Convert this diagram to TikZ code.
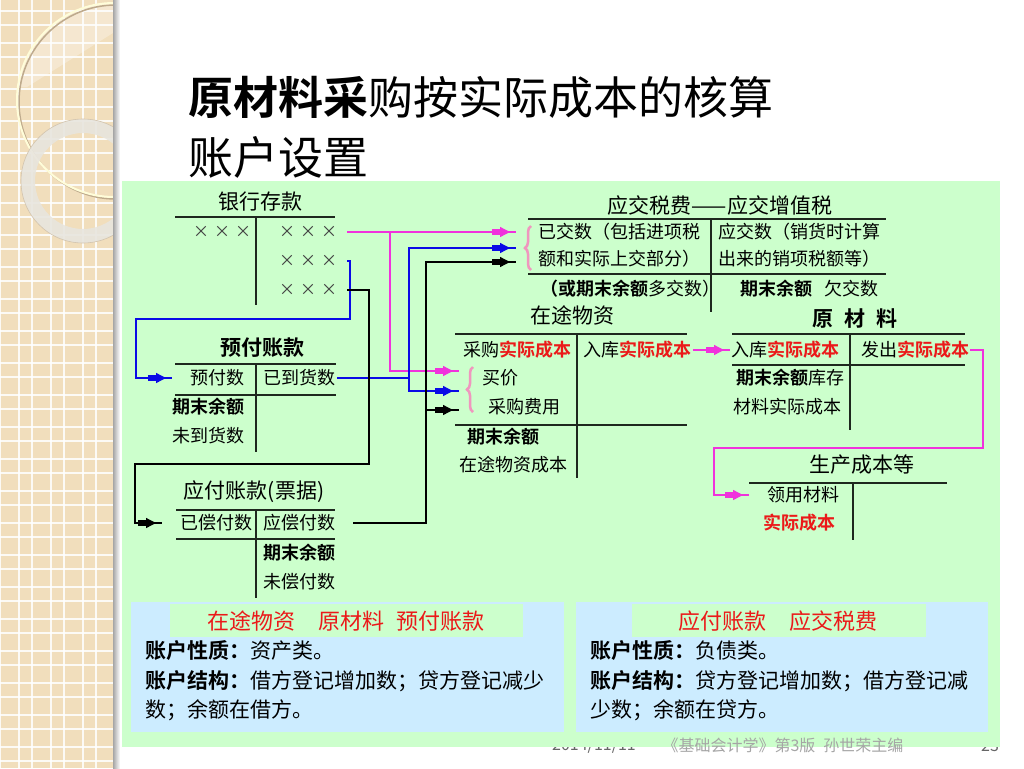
\documentclass[tikz,border=0pt]{standalone}
\usepackage{fontspec}
\setmainfont{Noto Sans CJK SC}[BoldFont={Noto Sans CJK SC Bold}]
\usetikzlibrary{arrows.meta,decorations.markings,decorations.pathreplacing}
\definecolor{panelgreen}{RGB}{204,255,204}
\definecolor{boxblue}{RGB}{204,236,255}
\definecolor{striptan}{RGB}{241,222,188}
\definecolor{magc}{RGB}{240,50,220}
\definecolor{bluc}{RGB}{10,10,230}
\definecolor{bracepink}{RGB}{240,150,190}
\definecolor{redt}{RGB}{235,25,25}
\definecolor{tlinec}{RGB}{30,40,30}
\definecolor{ringc}{RGB}{232,229,222}
\definecolor{shadowc}{RGB}{190,170,140}
\definecolor{footgray}{RGB}{165,165,165}
\newcommand{\rd}[1]{\textcolor{redt}{\bfseries #1}}
\begin{document}
\begin{tikzpicture}[x=1pt,y=-1pt,
  txtbody/.style={font=\fontsize{18pt}{20pt}\selectfont, inner sep=0pt, anchor=west},
  txtx/.style={font=\fontsize{16pt}{18pt}\selectfont, inner sep=0pt, anchor=west, text=black!75},
  txttitle/.style={font=\fontsize{21pt}{24pt}\selectfont, inner sep=0pt},
  txtbox/.style={font=\fontsize{21pt}{24pt}\selectfont, inner sep=0pt, anchor=west},
  txtred/.style={font=\fontsize{22pt}{24pt}\selectfont, inner sep=0pt, text=redt},
  tacct/.style={draw=tlinec, line width=2pt},
  conn/.style={line width=1.3pt},
  arrowtip/.style={postaction={decorate}, decoration={markings,
     mark=at position -16pt with {\arrow{Square[length=8pt,width=5.5pt]}},
     mark=at position -6pt with {\arrow{Triangle[length=10pt,width=10pt]}}}},
  brc/.style={draw=bracepink, line width=2.5pt, decorate, decoration={brace, amplitude=6pt}}
]
\useasboundingbox (0,0) rectangle (1024,768);
\fill[white] (0,0) rectangle (1024,768);

% left decorative strip
\begin{scope}
\clip (0,0) rectangle (113,768);
\fill[striptan] (0,0) rectangle (113,768);
\foreach \x in {0,19,32,51,64,83,96}
  \draw[white, line width=1.6pt, opacity=0.85] (\x,0) -- (\x,768);
\foreach \k in {0,...,23} {
  \draw[white, line width=1.6pt, opacity=0.85] (0,{11+32*\k}) -- (113,{11+32*\k});
  \draw[white, line width=1.6pt, opacity=0.85] (0,{25+32*\k}) -- (113,{25+32*\k});
}
\begin{scope}
\clip (114,100) circle (97);
\fill[white, opacity=0.3] (0,0) -- (113,0) -- (113,33) -- (27,87) -- (0,87) -- cycle;
\end{scope}
\draw[shadowc, line width=1.5pt] (116,102) circle (97);
\draw[white!85!yellow, line width=2pt] (114,100) circle (97);
\fill[ringc, opacity=0.9, even odd rule] (83,181) circle (62) (83,181) circle (48);
\draw[shadowc!70, line width=0.6pt] (83,181) circle (62);
\end{scope}
\shade[left color=black!35, right color=white] (113,0) rectangle (120,768);

% footer (behind panel)
\node[font=\fontsize{16pt}{18pt}\selectfont, text=black!60, inner sep=0pt] (fdate) at (594,746) {2014/11/11};
\node[font=\fontsize{16pt}{18pt}\selectfont, text=black!60, inner sep=0pt] (fpage) at (990,746) {23};

% title
\node[anchor=west, inner sep=0pt, font=\fontsize{45pt}{50pt}\selectfont] (t1) at (188,97) {\textbf{原材料采}购按实际成本的核算};
\node[anchor=west, inner sep=0pt, font=\fontsize{45pt}{50pt}\selectfont] (t2) at (188,157) {账户设置};

% panel
\fill[panelgreen] (122,181) rectangle (1000,747);
\fill[boxblue] (131,602) rectangle (564,732);
\fill[boxblue] (576,602) rectangle (988,732);
\fill[panelgreen] (170,604) rectangle (523,637);
\fill[panelgreen] (632,604) rectangle (926,637);

\node[font=\fontsize{16pt}{18pt}\selectfont, text=footgray, inner sep=0pt] (fbook) at (783,745) {《基础会计学》第3版\hspace{8pt}孙世荣主编};

% ---------- 银行存款 ----------
\node[txttitle] (bankT) at (260,202) {银行存款};
\draw[tacct] (175,217) -- (335,217);
\draw[tacct] (256,217) -- (256,305);
\node[txtx] (bankL) at (193,232) {×\hspace{5pt}×\hspace{5pt}×};
\node[txtx] (bankR1) at (279,232) {×\hspace{5pt}×\hspace{5pt}×};
\node[txtx] (bankR2) at (279,261) {×\hspace{5pt}×\hspace{5pt}×};
\node[txtx] (bankR3) at (279,290) {×\hspace{5pt}×\hspace{5pt}×};

% ---------- 预付账款 ----------
\node[txttitle, font=\fontsize{21pt}{24pt}\selectfont\bfseries] (ypT) at (262,348) {预付账款};
\draw[tacct] (175,364) -- (336,364);
\draw[tacct] (256,364) -- (256,452);
\draw[tacct] (175,395) -- (336,395);
\node[txtbody] (ypL) at (190,378) {预付数};
\node[txtbody] (ypR) at (263,378) {已到货数};
\node[txtbody, font=\fontsize{18pt}{20pt}\selectfont\bfseries] (ypB1) at (172,407) {期末余额};
\node[txtbody] (ypB2) at (172,436) {未到货数};

% ---------- 应付账款(票据) ----------
\node[txttitle] (yfT) at (254,492) {应付账款(票据)};
\draw[tacct, line width=2.6pt] (176,510) -- (335,510);
\draw[tacct] (256,510) -- (256,598);
\draw[tacct] (176,539) -- (335,539);
\node[txtbody] (yfL) at (180,523) {已偿付数};
\node[txtbody] (yfR) at (263,523) {应偿付数};
\node[txtbody, font=\fontsize{18pt}{20pt}\selectfont\bfseries] (yfB1) at (263,553) {期末余额};
\node[txtbody] (yfB2) at (263,582) {未偿付数};

% ---------- 应交税费——应交增值税 ----------
\node[txttitle] (taxT) at (720,205) {应交税费——应交增值税};
\draw[tacct] (528,219) -- (886,219);
\draw[tacct] (711,219) -- (711,312);
\draw[tacct] (528,274) -- (886,274);
\node[txtbody] (taxL1) at (538,232) {已交数（包括进项税};
\node[txtbody] (taxL2) at (538,259) {额和实际上交部分）};
\node[txtbody] (taxR1) at (718,232) {应交数（销货时计算};
\node[txtbody] (taxR2) at (718,259) {出来的销项税额等）};
\node[txtbody] (taxL3) at (540,289) {\textbf{（或期末余额}多交数）};
\node[txtbody] (taxR3) at (740,289) {\textbf{期末余额}\hspace{12pt}欠交数};
\draw[brc] (531,270) -- (531,226);

% ---------- 在途物资 ----------
\node[txttitle] (ztT) at (572,315) {在途物资};
\draw[tacct] (455,334) -- (687,334);
\draw[tacct] (577,334) -- (577,478);
\draw[tacct] (455,425) -- (687,425);
\node[txtbody] (ztL1) at (463,350) {采购\rd{实际成本}};
\node[txtbody] (ztR) at (583,350) {入库\rd{实际成本}};
\node[txtbody] (ztP) at (482,378) {买价};
\node[txtbody] (ztF) at (488,407) {采购费用};
\node[txtbody, font=\fontsize{18pt}{20pt}\selectfont\bfseries] (ztB1) at (467,437) {期末余额};
\node[txtbody] (ztB2) at (459,465) {在途物资成本};
\draw[brc] (473,412) -- (473,367);

% ---------- 原材料 ----------
\node[txttitle, font=\fontsize{21pt}{24pt}\selectfont\bfseries] (ylT) at (855,319) {原\hspace{11pt}材\hspace{11pt}料};
\draw[tacct] (732,334) -- (965,334);
\draw[tacct] (850,334) -- (850,430);
\draw[tacct] (732,365) -- (965,365);
\node[txtbody] (ylL) at (731,350) {入库\rd{实际成本}};
\node[txtbody] (ylR) at (861,350) {发出\rd{实际成本}};
\node[txtbody] (ylB1) at (736,378) {\textbf{期末余额}库存};
\node[txtbody] (ylB2) at (733,407) {材料实际成本};

% ---------- 生产成本等 ----------
\node[txttitle] (scT) at (862,465) {生产成本等};
\draw[tacct] (749,483) -- (947,483);
\draw[tacct] (853,483) -- (853,540);
\node[txtbody] (scL1) at (767,495) {领用材料};
\node[txtbody] (scL2) at (763,523) {\rd{实际成本}};

% ---------- connectors ----------
\coordinate (tax1) at (516,232);
\coordinate (tax2) at (516,248);
\coordinate (tax3) at (516,262);
\coordinate (zt1) at (459,371);
\coordinate (zt2) at (459,391);
\coordinate (zt3) at (459,410);
\coordinate (mbr) at (390,232);
\coordinate (bbr) at (409,378);
\coordinate (kbr) at (426,410);

\draw[conn, magc, arrowtip] ([xshift=10pt]bankR1.east) -- (tax1);
\draw[conn, magc, arrowtip] (mbr) |- (zt1);

\draw[conn, bluc, arrowtip] ([xshift=10pt]bankR2.east) -- (350,261) -- (350,319) -- (136,319) |- ([xshift=-18pt]ypL.west);
\draw[conn, bluc, arrowtip] ([xshift=2pt]ypR.east) -| (409,248) -- (tax2);
\draw[conn, bluc, arrowtip] (bbr) |- (zt2);

\draw[conn, black, arrowtip] ([xshift=10pt]bankR3.east) -- (369,290) -- (369,464) -- (135,464) |- ([xshift=-18pt]yfL.west);
\draw[conn, black, arrowtip] ([xshift=18pt]yfR.east) -| (426,262) -- (tax3);
\draw[conn, black, arrowtip] (kbr) -- (zt3);

\draw[conn, magc, arrowtip] ([xshift=2pt]ztR.east) -- ([xshift=-1pt]ylL.west);
\draw[conn, magc, arrowtip] ([xshift=1pt]ylR.east) -- (983,350) -- (983,448) -- (714,448) |- ([xshift=-18pt]scL1.west);

% ---------- bottom boxes ----------
\node[txtred] (lt) at (346,621) {在途物资\hspace{24pt}原材料\hspace{12pt}预付账款};
\node[txtbox] (l1) at (145,651) {\textbf{账户性质：}资产类。};
\node[txtbox] (l2) at (145,681) {\textbf{账户结构：}借方登记增加数；贷方登记减少};
\node[txtbox] (l3) at (145,710) {数；余额在借方。};

\node[txtred] (rt) at (778,621) {应付账款\hspace{24pt}应交税费};
\node[txtbox] (r1) at (590,651) {\textbf{账户性质：}负债类。};
\node[txtbox] (r2) at (590,681) {\textbf{账户结构：}贷方登记增加数；借方登记减};
\node[txtbox] (r3) at (590,710) {少数；余额在贷方。};
\end{tikzpicture}
\end{document}
